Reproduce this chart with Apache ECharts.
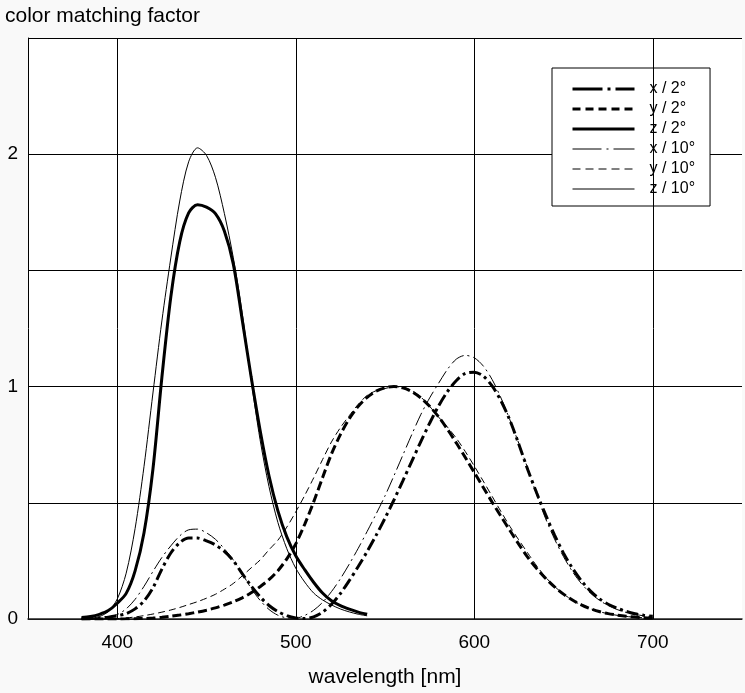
<!DOCTYPE html>
<html>
<head>
<meta charset="utf-8">
<script src="https://cdn.jsdelivr.net/npm/echarts@6/dist/echarts.min.js"></script>
<style>
html,body{margin:0;padding:0;background:#f9f9f9;}
#c{width:745px;height:693px;}
</style>
</head>
<body>
<div id="c"></div>
<script>
// wavelengths (nm), 5 nm steps from 380 to 700
const wavelengths = [380,385,390,395,400,405,410,415,420,425,430,435,440,445,450,455,460,465,470,475,480,485,490,495,500,505,510,515,520,525,530,535,540,545,550,555,560,565,570,575,580,585,590,595,600,605,610,615,620,625,630,635,640,645,650,655,660,665,670,675,680,685,690,695,700];

const x2 = [0.0014,0.0022,0.0042,0.0077,0.0143,0.0232,0.0435,0.0776,0.1344,0.2148,0.2839,0.3285,0.3483,0.3481,0.3362,0.3187,0.2908,0.2511,0.1954,0.1421,0.0956,0.0580,0.0320,0.0147,0.0049,0.0024,0.0093,0.0291,0.0633,0.1096,0.1655,0.2257,0.2904,0.3597,0.4334,0.5121,0.5945,0.6784,0.7621,0.8425,0.9163,0.9786,1.0263,1.0567,1.0622,1.0456,1.0026,0.9384,0.8544,0.7514,0.6424,0.5419,0.4479,0.3608,0.2835,0.2187,0.1649,0.1212,0.0874,0.0636,0.0468,0.0329,0.0227,0.0158,0.0114];
const y2 = [0.0000,0.0001,0.0001,0.0002,0.0004,0.0006,0.0012,0.0022,0.0040,0.0073,0.0116,0.0168,0.0230,0.0298,0.0380,0.0480,0.0600,0.0739,0.0910,0.1126,0.1390,0.1693,0.2080,0.2586,0.3230,0.4073,0.5030,0.6082,0.7100,0.7932,0.8620,0.9149,0.9540,0.9803,0.9950,1.0000,0.9950,0.9786,0.9520,0.9154,0.8700,0.8163,0.7570,0.6949,0.6310,0.5668,0.5030,0.4412,0.3810,0.3210,0.2650,0.2170,0.1750,0.1382,0.1070,0.0816,0.0610,0.0446,0.0320,0.0232,0.0170,0.0119,0.0082,0.0057,0.0041];
const z2 = [0.0065,0.0106,0.0201,0.0362,0.0679,0.1102,0.2074,0.3713,0.6456,1.0391,1.3856,1.6230,1.7471,1.7826,1.7721,1.7441,1.6692,1.5281,1.2876,1.0419,0.8130,0.6162,0.4652,0.3533,0.2720,0.2123,0.1582,0.1117,0.0783,0.0573,0.0422,0.0298,0.0203];

const x10 = [0.0002,0.0007,0.0024,0.0072,0.0191,0.0434,0.0847,0.1406,0.2045,0.2647,0.3147,0.3577,0.3837,0.3867,0.3707,0.3430,0.3023,0.2541,0.1956,0.1323,0.0805,0.0411,0.0162,0.0051,0.0038,0.0154,0.0375,0.0714,0.1177,0.1730,0.2365,0.3042,0.3768,0.4516,0.5298,0.6161,0.7052,0.7938,0.8787,0.9512,1.0142,1.0743,1.1185,1.1343,1.1240,1.0891,1.0305,0.9507,0.8563,0.7549,0.6475,0.5351,0.4316,0.3437,0.2683,0.2043,0.1526,0.1122,0.0813,0.0579,0.0409,0.0286,0.0199,0.0138,0.0096];
const y10 = [0.0000,0.0001,0.0003,0.0008,0.0020,0.0045,0.0088,0.0145,0.0214,0.0295,0.0387,0.0496,0.0621,0.0747,0.0895,0.1063,0.1282,0.1528,0.1852,0.2199,0.2536,0.2977,0.3391,0.3954,0.4608,0.5314,0.6067,0.6857,0.7618,0.8233,0.8752,0.9238,0.9620,0.9822,0.9918,0.9991,0.9973,0.9824,0.9556,0.9152,0.8689,0.8256,0.7774,0.7204,0.6583,0.5939,0.5280,0.4618,0.3981,0.3396,0.2835,0.2283,0.1798,0.1402,0.1076,0.0812,0.0603,0.0441,0.0318,0.0226,0.0159,0.0111,0.0077,0.0054,0.0037];
const z10 = [0.0007,0.0029,0.0105,0.0323,0.0860,0.1971,0.3894,0.6568,0.9725,1.2825,1.5535,1.7985,1.9673,2.0273,1.9948,1.9007,1.7454,1.5549,1.3176,1.0302,0.7721,0.5701,0.4153,0.3024,0.2185,0.1592,0.1120,0.0822,0.0607,0.0431,0.0305,0.0206,0.0137];

const xGridValues = [400, 500, 600, 700];
const xTickLabels = ['400', '500', '600', '700'];
const yTickLabels = ['0', '1', '2'];

const seriesNames = ['x / 2°', 'y / 2°', 'z / 2°', 'x / 10°', 'y / 10°', 'z / 10°'];

function pairs(vals) { return vals.map((v, i) => [wavelengths[i], v]); }

const FONT = 'Liberation Sans, Arial, Helvetica, sans-serif';

// line styles: [width, chart dash, legend dash]
const styles = [
  [3, [12, 4, 3, 4], [30, 5, 3, 5]],
  [3, [9, 4], [8, 5]],
  [3, 'solid', 'solid'],
  [1, [14, 4, 2, 4], [29, 5, 2, 5]],
  [1, [7, 4], [8, 5]],
  [1, 'solid', 'solid']
];
const allValues = [x2, y2, z2, x10, y10, z10];

const series = seriesNames.map((name, k) => ({
  name: name, type: 'line', data: pairs(allValues[k]), symbol: 'none', showSymbol: false,
  smooth: 0.3, silent: true, z: styles[k][0] > 1 ? 5 : 4,
  color: '#000',
  itemStyle: { color: '#000' },
  lineStyle: { color: '#000', width: styles[k][0], type: styles[k][1], cap: 'butt' }
}));
series[0].markLine = {
  silent: true, symbol: ['none', 'none'], animation: false,
  label: { show: false },
  lineStyle: { color: '#000', width: 1, type: 'solid' },
  data: xGridValues.map(v => ({ xAxis: v }))
};

const chart = echarts.init(document.getElementById('c'));
chart.setOption({
  animation: false,
  backgroundColor: '#f9f9f9',
  textStyle: { fontFamily: FONT, color: '#000' },
  title: {
    text: 'color matching factor', left: 5, top: 6, padding: 0,
    textStyle: { fontFamily: FONT, fontSize: 21, fontWeight: 'normal', color: '#000' }
  },
  grid: { left: 28, right: -7, top: 38, bottom: 71, show: true, backgroundColor: '#fff', borderWidth: 0 },
  legend: {
    orient: 'vertical', left: 552, top: 68,
    padding: [13, 15, 9, 19],
    itemWidth: 62, itemHeight: 14, itemGap: 4,
    backgroundColor: '#fff', borderColor: '#000', borderWidth: 1,
    itemStyle: { opacity: 0 },
    textStyle: { fontFamily: FONT, fontSize: 16, color: '#000', padding: [0, 0, 0, 10] },
    selectedMode: false,
    data: seriesNames.map((name, k) => ({
      name: name,
      itemStyle: { opacity: 0 },
      lineStyle: { color: '#000', width: styles[k][0], type: styles[k][2], cap: 'butt' }
    }))
  },
  xAxis: {
    type: 'value', min: 350, max: 750, interval: 50,
    name: 'wavelength [nm]', nameLocation: 'middle', nameGap: 48,
    nameTextStyle: { fontFamily: FONT, fontSize: 21, color: '#000' },
    axisLine: { show: true, lineStyle: { color: '#222', width: 1.5 } },
    axisTick: { show: false },
    splitLine: { show: false },
    axisLabel: {
      fontFamily: FONT, fontSize: 19, color: '#000', margin: 14,
      formatter: v => { const i = xGridValues.indexOf(v); return i >= 0 ? xTickLabels[i] : ''; }
    }
  },
  yAxis: {
    type: 'value', min: 0, max: 2.5, interval: 0.5,
    axisLine: { show: true, lineStyle: { color: '#000', width: 1 } },
    axisTick: { show: false },
    splitLine: { show: true, lineStyle: { color: '#000', width: 1 } },
    axisLabel: {
      fontFamily: FONT, fontSize: 19, color: '#000', margin: 10,
      formatter: v => (Number.isInteger(v) && yTickLabels[v] !== undefined) ? yTickLabels[v] : ''
    }
  },
  series: series
});
</script>
</body>
</html>
